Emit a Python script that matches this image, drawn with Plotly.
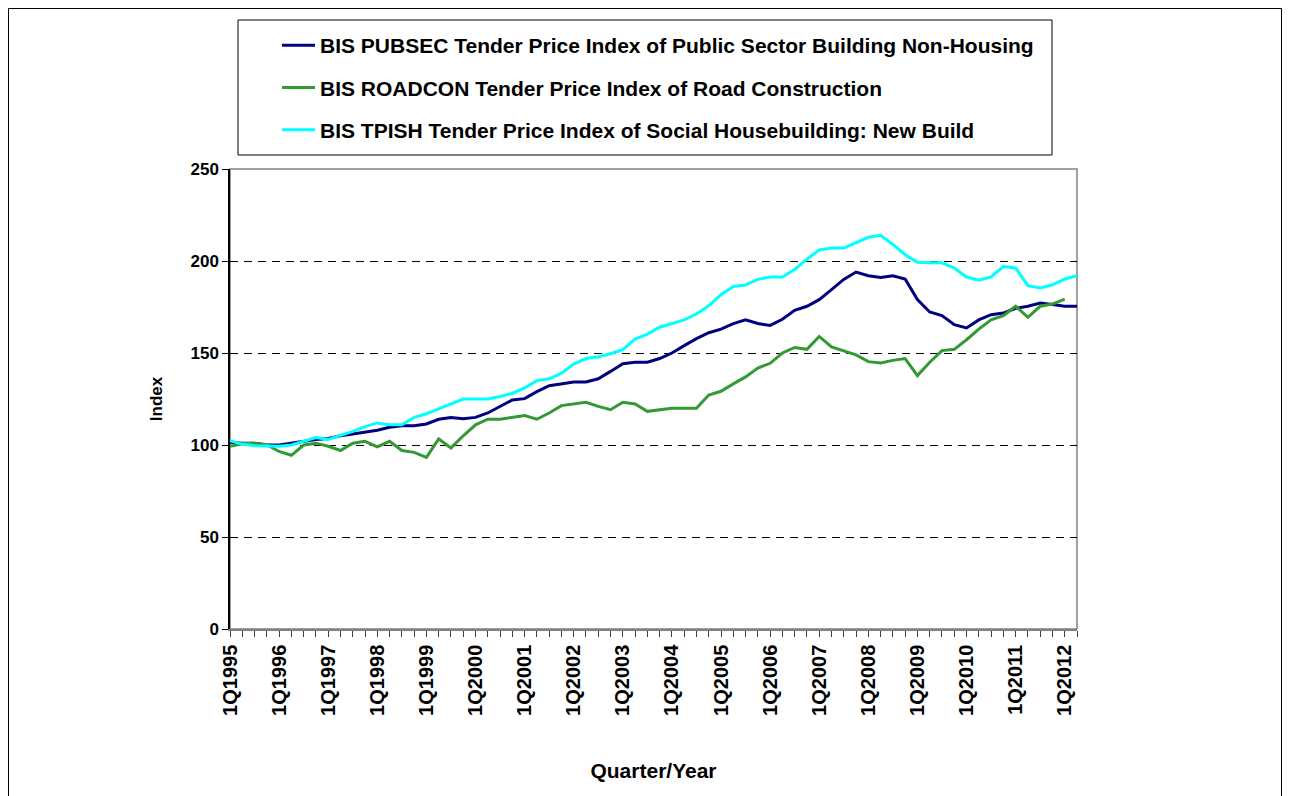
import plotly.graph_objects as go

# ---- data ----
years = list(range(1995, 2013))
quarters = [f"{q}Q{y}" for y in years for q in range(1, 5)][:70]  # 1Q1995 .. 2Q2012

pubsec = [101.5, 101, 101, 100, 100, 101, 102, 103, 103.5, 105, 106, 107,
          108, 109.6, 110.5, 110.5, 111.4, 114, 115, 114.3, 115, 117.4, 121, 124.5,
          125.2, 129, 132.2, 133.3, 134.2, 134.2, 136, 140, 144.2, 145, 145, 147,
          150, 154, 157.8, 161, 163, 166, 168, 166, 165, 168.3, 173.2,
          175.4, 179, 184.4, 190, 194, 192, 191.1, 192, 190.2, 179, 172.3, 170.3,
          165.4, 163.6, 168, 170.8, 171.7, 174.3, 175.4, 177.2, 176.3, 175.4, 175.4]

roadcon = [99.3, 100.7, 101, 100.2, 96.5, 94.4, 100, 101, 99.3, 97, 101, 102,
           99, 102, 97, 96, 93.3, 103.3, 98.4, 105, 111, 114, 114, 115.2,
           116, 114, 117.4, 121.4, 122.3, 123.2, 121, 119.2, 123.2, 122.3, 118.3, 119.2,
           120, 120, 120, 127.2, 129.2, 133.2, 137, 141.8, 144.4, 150, 153,
           152, 159, 153.3, 151.2, 149, 145.3, 144.6, 146, 147, 137.7, 145, 151.3,
           152, 157.2, 163, 168, 170.3, 175.4, 169.4, 175.4, 176.6, 179.3]

tpish = [102.4, 100.5, 99.6, 99.3, 99.3, 100, 102, 104, 103, 105, 107.4, 110,
         112, 111, 111, 115, 117, 119.6, 122.5, 125, 125, 125, 126.4, 128,
         131, 135, 136, 139, 144, 147, 148, 149.6, 151.8, 157.6, 160.3, 164,
         166, 168, 171.2, 175.7, 181.7, 186.2, 187, 190, 191.3, 191.3, 195.3,
         201, 206, 207, 207, 210, 212.9, 214, 209, 203.4, 199.3, 199, 199,
         196.2, 191.3, 189.5, 191.3, 197, 196.2, 186.6, 185.3, 187.1, 190.2, 192]

series_names = [
    "BIS PUBSEC Tender Price Index of Public Sector Building Non-Housing",
    "BIS ROADCON Tender Price Index of Road Construction",
    "BIS TPISH Tender Price Index of Social Housebuilding: New Build",
]
series_values = [pubsec, roadcon, tpish]
series_colors = ["#000080", "#339933", "#00FFFF"]

y_ticks = [0, 50, 100, 150, 200, 250]
x_ticktext = [q if q.startswith("1Q") else "" for q in quarters]

FONT = "Liberation Sans, Arial, sans-serif"

fig = go.Figure()
for name, vals, col in zip(series_names, series_values, series_colors):
    fig.add_trace(go.Scatter(
        x=quarters[:len(vals)], y=vals, name=name, mode="lines",
        line=dict(color=col, width=3), legendgroup=name,
    ))

# page has an 8px body margin; figure sized so it fits the 1290x796 window
OFF = 8
W, H = 1290 - OFF, 796 - OFF
L, R, T, B = 230 - OFF, 213, 169 - OFF, 167
pw, ph = W - L - R, H - T - B
PLOT_LEFT, PLOT_BOTTOM = L + OFF, T + OFF + ph


def px_x(p):
    """page pixel x -> paper x"""
    return (p - PLOT_LEFT) / pw


def px_y(p):
    """page pixel y -> paper y"""
    return (PLOT_BOTTOM - p) / ph


fig.update_layout(
    width=W, height=H,
    margin=dict(l=L, r=R, t=T, b=B, autoexpand=False),
    paper_bgcolor="white", plot_bgcolor="white",
    font=dict(family=FONT, color="black", weight="bold"),
    showlegend=True,
    legend=dict(
        x=px_x(277), y=px_y(25), xanchor="left", yanchor="top",
        bgcolor="rgba(0,0,0,0)", borderwidth=0,
        font=dict(family=FONT, size=21, color="black", weight="bold"),
        tracegroupgap=12, itemwidth=33,
    ),
    xaxis=dict(
        type="category", range=[0, len(quarters) - 1],
        tickmode="array", tickvals=quarters, ticktext=x_ticktext,
        tickangle=-90, tickfont=dict(family=FONT, size=20, color="black", weight="bold"),
        ticks="outside", ticklen=6, tickcolor="#404040", tickwidth=1,
        showline=True, linecolor="#808080", linewidth=1.5,
        showgrid=False, zeroline=False,
        title=dict(text="Quarter/Year", font=dict(family=FONT, size=21, color="black", weight="bold"),
                   standoff=48),
    ),
    yaxis=dict(
        range=[0, 250], tickmode="array", tickvals=y_ticks,
        tickfont=dict(family=FONT, size=17, color="black", weight="bold"),
        ticks="outside", ticklen=6, tickcolor="black",
        showline=True, linecolor="black", linewidth=1.5,
        showgrid=True, gridcolor="black", gridwidth=1, griddash="8px,6px",
        zeroline=False,
        title=dict(text="Index", font=dict(family=FONT, size=17, color="black", weight="bold"),
                   standoff=24),
    ),
    shapes=[
        # plot area frame
        dict(type="rect", xref="paper", yref="paper", x0=0, x1=1, y0=0, y1=1,
             line=dict(color="#808080", width=1.5), layer="below"),
        # legend box
        dict(type="rect", xref="paper", yref="paper",
             x0=px_x(238), x1=px_x(1052), y0=px_y(155), y1=px_y(20),
             line=dict(color="black", width=1)),
        # outer chart border
        dict(type="rect", xref="paper", yref="paper",
             x0=px_x(8.5), x1=px_x(1281.5), y0=px_y(805), y1=px_y(8.5),
             line=dict(color="black", width=1)),
    ],
)

fig.write_html("out.html")
